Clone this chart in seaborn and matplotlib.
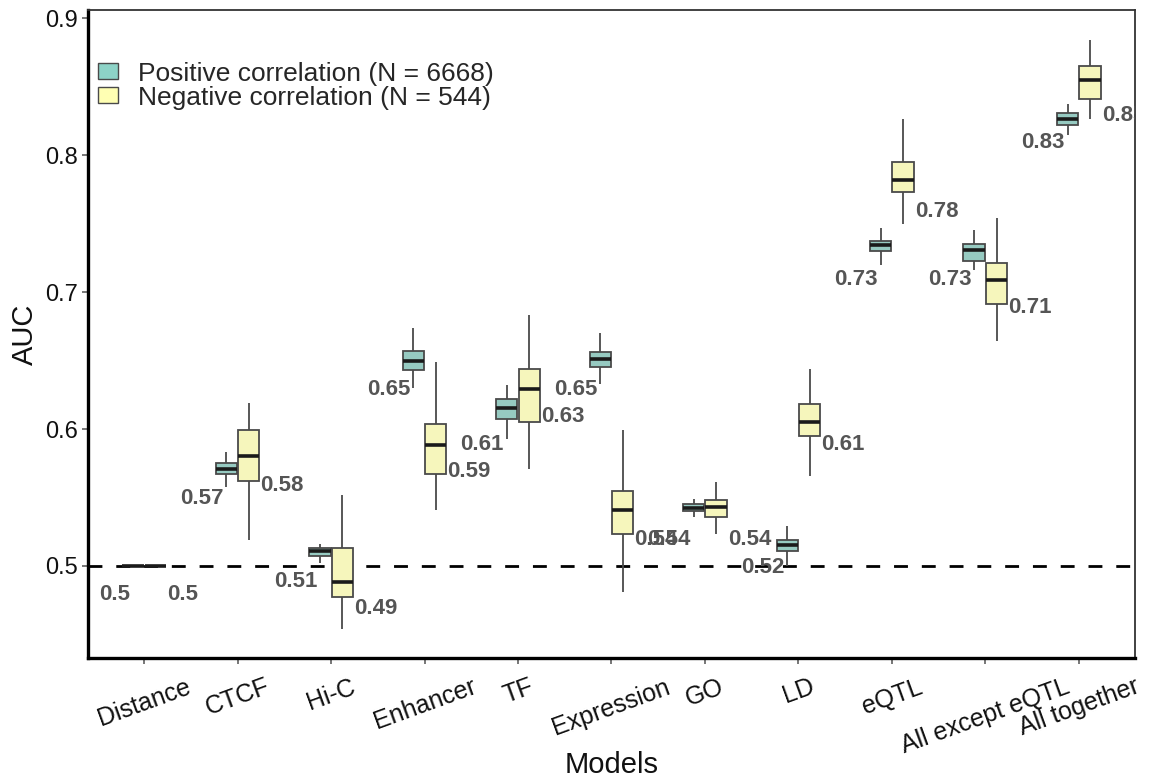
import numpy as np
import pandas as pd
import matplotlib
matplotlib.use("Agg")
import matplotlib.pyplot as plt
import matplotlib.patches as mpatches
import seaborn as sns

models = ["Distance", "CTCF", "Hi-C", "Enhancer", "TF", "Expression", "GO", "LD",
          "eQTL", "All except eQTL", "All together"]
groups = ["Positive correlation (N = 6668)", "Negative correlation (N = 544)"]

# five-number summaries: [whisker low, q1, median, q3, whisker high]
pos_stats = [
    [0.500, 0.500, 0.500, 0.500, 0.500],
    [0.558, 0.567, 0.571, 0.575, 0.583],
    [0.502, 0.507, 0.511, 0.513, 0.516],
    [0.630, 0.643, 0.650, 0.657, 0.674],
    [0.593, 0.607, 0.615, 0.622, 0.632],
    [0.633, 0.645, 0.651, 0.656, 0.670],
    [0.536, 0.540, 0.542, 0.545, 0.549],
    [0.500, 0.511, 0.515, 0.519, 0.529],
    [0.720, 0.730, 0.734, 0.737, 0.747],
    [0.716, 0.723, 0.731, 0.735, 0.745],
    [0.815, 0.822, 0.826, 0.831, 0.837],
]
neg_stats = [
    [0.500, 0.500, 0.500, 0.500, 0.500],
    [0.519, 0.562, 0.580, 0.599, 0.619],
    [0.454, 0.477, 0.488, 0.513, 0.552],
    [0.541, 0.567, 0.588, 0.604, 0.649],
    [0.571, 0.605, 0.629, 0.644, 0.683],
    [0.481, 0.523, 0.541, 0.555, 0.599],
    [0.523, 0.536, 0.543, 0.548, 0.561],
    [0.566, 0.595, 0.605, 0.618, 0.644],
    [0.750, 0.773, 0.782, 0.795, 0.826],
    [0.664, 0.691, 0.709, 0.721, 0.754],
    [0.826, 0.841, 0.855, 0.865, 0.884],
]
# mean AUC labels shown next to the boxes
pos_labels = [0.5, 0.57, 0.51, 0.65, 0.61, 0.65, 0.54, 0.52, 0.73, 0.73, 0.83]
neg_labels = [0.5, 0.58, 0.49, 0.59, 0.63, 0.54, 0.54, 0.61, 0.78, 0.71, 0.85]

rows = []
for m, ps, ns in zip(models, pos_stats, neg_stats):
    for v in ps:
        rows.append((m, groups[0], v))
    for v in ns:
        rows.append((m, groups[1], v))
df = pd.DataFrame(rows, columns=["Models", "Group", "AUC"])

sns.set_theme(style="white")
plt.rcParams["font.family"] = ["Liberation Sans", "DejaVu Sans"]

colors = ["#8dd3c7", "#ffffb3"]
fig = plt.figure(figsize=(11.51, 7.83), dpi=100)
ax = fig.add_axes([0.0765, 0.1596, 0.9095, 0.8274])

ax.axhline(0.5, color="black", lw=2, dashes=(5, 5), zorder=0)

sns.boxplot(data=df, x="Models", y="AUC", hue="Group", order=models, hue_order=groups,
            palette=colors, whis=(0, 100), width=0.48, gap=0.05, showfliers=False,
            linecolor="#4a4a4a", linewidth=1.3, showcaps=False,
            medianprops=dict(color="#1a1a1a", linewidth=2.6),
            ax=ax, legend=False)

for i in range(len(models)):
    ax.text(i - 0.15, pos_labels[i] - 0.021, f"{pos_labels[i]:g}", ha="right", va="center",
            fontsize=16, fontweight="bold", color="#555555", clip_on=True)
    ax.text(i + 0.245, neg_labels[i] - 0.021, f"{neg_labels[i]:g}", ha="left", va="center",
            fontsize=16, fontweight="bold", color="#555555", clip_on=True)

ax.set_xlim(-0.6, 10.6)
ax.set_ylim(0.4328, 0.9058)
ax.set_yticks([0.5, 0.6, 0.7, 0.8, 0.9])
ax.set_yticklabels(["0.5", "0.6", "0.7", "0.8", "0.9"])
ax.tick_params(axis="both", length=4, color="#666666", left=True, bottom=True,
               labelcolor="#111111")
ax.tick_params(axis="y", labelsize=17)
ax.tick_params(axis="x", labelsize=18, pad=8)
for lab in ax.get_xticklabels():
    lab.set_rotation(20)
    lab.set_ha("center")
ax.set_xlabel("Models", fontsize=21, color="#111111")
ax.xaxis.set_label_coords(0.5, -0.143)
ax.set_ylabel("AUC", fontsize=21, color="#111111")

for side in ["left", "bottom"]:
    ax.spines[side].set_color("black")
    ax.spines[side].set_linewidth(2.4)
for side in ["top", "right"]:
    ax.spines[side].set_color("#333333")
    ax.spines[side].set_linewidth(1.3)

handles = [mpatches.Patch(facecolor=c, edgecolor="#4a4a4a", linewidth=1.0) for c in colors]
ax.legend(handles, groups, loc="upper left", bbox_to_anchor=(-0.008, 0.949), frameon=False,
          fontsize=19, handlelength=0.75, handleheight=0.55, handletextpad=0.75,
          labelspacing=0.0, borderaxespad=0.3)

fig.savefig("out.png", dpi=100)
